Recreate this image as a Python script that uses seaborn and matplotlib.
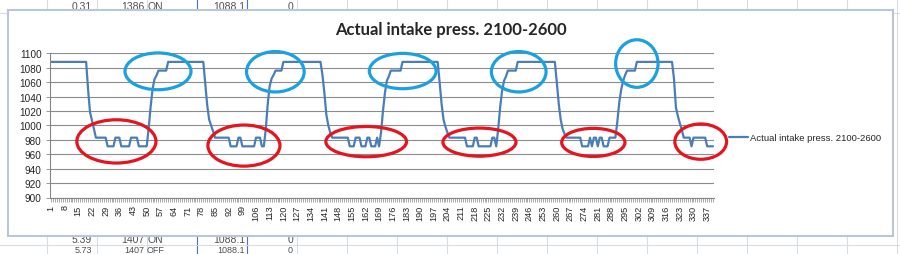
import numpy as np
import pandas as pd
import matplotlib
matplotlib.use("Agg")
import matplotlib.pyplot as plt
import seaborn as sns
from matplotlib.patches import Ellipse, Rectangle
from matplotlib.lines import Line2D

# ---------------- data ----------------
chart_title = "Actual intake press. 2100-2600"
series_name = "Actual intake press. 2100-2600"

pressure = [
    1088.1, 1088.1, 1088.1, 1088.1, 1088.1, 1088.1, 1088.1, 1088.1, 1088.1, 1088.1,
    1088.1, 1088.1, 1088.1, 1088.1, 1088.1, 1088.1, 1088.1, 1088.1, 1088.1,
    1050, 1018, 1007, 995,
    983, 983, 983, 983, 983, 983,
    971, 971, 971, 971,
    983, 983, 983,
    971, 971, 971, 971, 971,
    983, 983, 983, 983,
    971, 971, 971, 971, 971,
    995, 1025, 1050, 1064, 1069,
    1076, 1076, 1076, 1076, 1076,
    1088.1, 1088.1, 1088.1, 1088.1, 1088.1, 1088.1, 1088.1, 1088.1, 1088.1, 1088.1,
    1088.1, 1088.1, 1088.1, 1088.1, 1088.1, 1088.1, 1088.1, 1088.1, 1088.1,
    1058, 1028, 1008, 1000, 992,
    983, 983, 983, 983, 983, 983, 983, 983,
    971, 971, 971, 971,
    983, 983,
    971, 971, 971, 971, 971, 971, 971,
    983, 983, 983,
    971, 971,
    995, 1030, 1055, 1065, 1070,
    1076, 1076, 1076, 1076,
    1088.1, 1088.1, 1088.1, 1088.1, 1088.1, 1088.1, 1088.1, 1088.1, 1088.1, 1088.1,
    1088.1, 1088.1, 1088.1, 1088.1, 1088.1, 1088.1, 1088.1, 1088.1, 1088.1, 1088.1,
    1070, 1045, 1015, 1000, 990,
    983, 983, 983, 983, 983, 983, 983, 983, 983,
    971, 971, 971,
    983, 983, 983,
    971, 971, 971,
    983, 983,
    971, 971, 971,
    983,
    971,
    990, 1020, 1045, 1062, 1068,
    1076, 1076, 1076, 1076, 1076, 1076,
    1088.1, 1088.1, 1088.1, 1088.1, 1088.1, 1088.1, 1088.1, 1088.1, 1088.1, 1088.1,
    1088.1, 1088.1, 1088.1, 1088.1, 1088.1, 1088.1, 1088.1, 1088.1, 1088.1,
    1060, 1030, 1008, 998, 990,
    983, 983, 983, 983, 983, 983, 983, 983, 983,
    971, 971, 971, 971,
    983, 983,
    971, 971, 971, 971, 971, 971, 971,
    983, 983,
    971,
    995, 1025, 1048, 1062, 1068,
    1076, 1076, 1076, 1076, 1076,
    1088.1, 1088.1, 1088.1, 1088.1, 1088.1, 1088.1, 1088.1, 1088.1, 1088.1, 1088.1,
    1088.1, 1088.1, 1088.1, 1088.1, 1088.1, 1088.1, 1088.1, 1088.1, 1088.1, 1088.1,
    1060, 1030, 1008, 995, 988,
    983, 983, 983, 983, 983, 983, 983, 983,
    971, 971, 971, 971,
    983,
    971,
    983, 983,
    971,
    983, 983,
    971, 971, 971,
    983, 983, 983, 983,
    1005, 1032, 1050, 1062, 1070,
    1076, 1076, 1076, 1076, 1076,
    1088.1, 1088.1, 1088.1, 1088.1, 1088.1, 1088.1, 1088.1, 1088.1, 1088.1, 1088.1,
    1088.1, 1088.1, 1088.1, 1088.1, 1088.1, 1088.1, 1088.1, 1088.1, 1088.1,
    1065, 1025, 1013, 1003, 994,
    983, 983, 983, 983,
    971,
    983, 983, 983, 983, 983, 983, 983,
    971, 971, 971, 971,
]

y_ticks = [900, 920, 940, 960, 980, 1000, 1020, 1040, 1060, 1080, 1100]
x_label_step = 7

# hand-drawn annotation ellipses: (category, value, width in categories, height in value units)
red_marks = [
    (34.5, 977.8, 40.5, 60),
    (99.8, 972.0, 36.9, 57),
    (162.4, 977.5, 41.3, 42),
    (220.4, 976.8, 37.4, 39),
    (278.7, 976.4, 32.4, 39),
    (333.7, 977.5, 26.5, 49),
]
blue_marks = [
    (55.8, 1075.0, 33.8, 51),
    (115.9, 1074.4, 29.5, 56),
    (181.1, 1075.4, 34.2, 49),
    (240.5, 1074.4, 28.0, 56),
    (301.0, 1085.8, 21.7, 66),
]

# spreadsheet cells visible around the chart
cells_top = ["0.31", "1386", "ON", "1088.1", "0"]
cells_bottom_1 = ["5.39", "1407", "ON", "1088.1", "0"]
cells_bottom_2 = ["5.73", "1407", "OFF", "1088.1", "0"]

# ---------------- figure ----------------
W, H = 900, 255
sns.set_style("white")
plt.rcParams["font.family"] = ["Liberation Sans", "DejaVu Sans"]

fig = plt.figure(figsize=(W / 100, H / 100), dpi=100)
fig.patch.set_facecolor("white")

def fx(x):
    return x / W

def fy(y):
    return 1 - y / H

# spreadsheet grid background
grid_c = "#D9DDE3"
for x in range(47, 900, 50):
    col = "#4F6BE0" if x in (197, 247) else grid_c
    fig.add_artist(Line2D([fx(x), fx(x)], [0, 1], transform=fig.transFigure,
                          color=col, lw=0.8, zorder=-3))
for y in (14, 246):
    fig.add_artist(Line2D([0, 1], [fy(y), fy(y)], transform=fig.transFigure,
                          color=grid_c, lw=0.8, zorder=-3))

# cell text
cell_x = [(92, "right"), (144, "right"), (147, "left"), (245, "right"), (293, "right")]
for row, yy, fs in ((cells_top, 7, 7.5), (cells_bottom_1, 240.5, 7.5),
                    (cells_bottom_2, 250.5, 6.5)):
    for txt, (xx, ha) in zip(row, cell_x):
        fig.text(fx(xx), fy(yy), txt, ha=ha, va="center", fontsize=fs,
                 color="#505050", zorder=-2)

# chart object frame
fig.add_artist(Rectangle((fx(8), fy(237)), (893 - 8) / W, (237 - 11) / H,
                         transform=fig.transFigure, facecolor="white",
                         edgecolor="#B8C6D6", lw=1.5, zorder=-1))

# plot area
ax = fig.add_axes([fx(50), fy(198.5), (714 - 50) / W, (198.5 - 54.3) / H])
ax.set_facecolor("none")

cats = np.arange(1, len(pressure) + 1)
df = pd.DataFrame({"category": cats, "pressure": pressure})
sns.lineplot(data=df, x="category", y="pressure", ax=ax, color="#4A7EBB",
             lw=1.6, label=series_name)

ax.set_xlim(0.5, len(pressure) + 0.5)
ax.set_ylim(900, 1100)
ax.set_yticks(y_ticks)
ax.set_yticklabels([str(v) for v in y_ticks])
ax.yaxis.grid(True, color="#8C8C8C", lw=0.8)
ax.xaxis.grid(False)
ax.set_axisbelow(True)

major = cats[::x_label_step]
ax.set_xticks(major)
ax.set_xticklabels([str(c) for c in major], rotation=90)
ax.set_xticks(cats, minor=True)
ax.tick_params(axis="x", which="both", bottom=True, length=3, width=0.5,
               color="#868686", labelsize=6.6, pad=2, direction="out")
ax.tick_params(axis="y", which="major", left=True, length=3, width=0.6,
               color="#868686", labelsize=7.2, pad=3)
for s in ("top", "right"):
    ax.spines[s].set_visible(False)
for s in ("left", "bottom"):
    ax.spines[s].set_color("#868686")
    ax.spines[s].set_linewidth(0.8)
ax.set_xlabel("")
ax.set_ylabel("")

# annotations
for cx, cy, w, h in red_marks:
    ax.add_patch(Ellipse((cx, cy), w, h, fill=False, edgecolor="#E5141F",
                         lw=2.3, clip_on=False, zorder=5))
for cx, cy, w, h in blue_marks:
    ax.add_patch(Ellipse((cx, cy), w, h, fill=False, edgecolor="#1BA1E2",
                         lw=2.3, clip_on=False, zorder=5))

# title
fig.text(fx(451), fy(30), chart_title, ha="center", va="center",
         fontsize=12, fontweight="bold", family=["Lato", "DejaVu Sans"])

# legend
ax.legend(loc="center left", bbox_to_anchor=(fx(729), fy(139)),
          bbox_transform=fig.transFigure, frameon=False, fontsize=6.8,
          handlelength=2.0, handletextpad=0.2, borderaxespad=0, borderpad=0)

fig.savefig("out.png", dpi=100)
